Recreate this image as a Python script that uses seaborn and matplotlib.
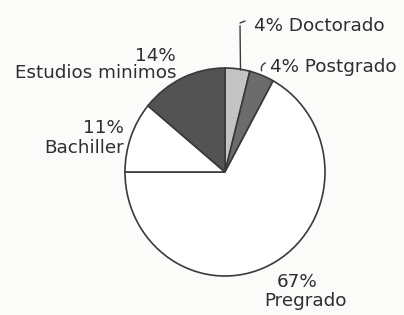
import numpy as np
import seaborn as sns
import matplotlib.pyplot as plt

sns.set_theme(style="white")
plt.rcParams['font.family'] = ['DejaVu Sans']

# data
niveles = ['Doctorado', 'Postgrado', 'Pregrado', 'Bachiller', 'Estudios minimos']
porcentajes = [4, 4, 67, 11, 14]
colores = ['#c4c4c4', '#6c6c6c', '#ffffff', '#ffffff', '#535353']

W, H = 404, 315
fig = plt.figure(figsize=(W / 100, H / 100), dpi=100)
fig.patch.set_facecolor('#fbfbfa')
ax = fig.add_axes([0, 0, 1, 1])

# pie centre / radii in pixels (scan is slightly taller than wide)
cx, cy = 225, 172
rx, ry = 100, 104

wedges, _ = ax.pie(porcentajes, colors=colores, startangle=90, counterclock=False,
                   radius=1, center=(0, 0),
                   wedgeprops=dict(edgecolor='#3a3a3a', linewidth=1.2))
ax.set_xlim(-cx / rx, (W - cx) / rx)
ax.set_ylim(-(H - cy) / ry, cy / ry)
ax.set_aspect('auto')
ax.axis('off')


def px(x, y):
    # pixel (from top-left) -> data coords
    return ((x - cx) / rx, (cy - y) / ry)


fs = 13.2
tc = '#2e2e2e'

# Doctorado: vertical leader from wedge edge
ang = np.deg2rad((wedges[0].theta1 + wedges[0].theta2) / 2)
ax.annotate('', xy=(np.cos(ang) + 0.03, np.sin(ang) - 0.04), xytext=px(240, 23),
            arrowprops=dict(arrowstyle='-', color='#3a3a3a', lw=1.0))
ax.plot(*zip(px(240, 23), px(245, 21)), color='#3a3a3a', lw=1.0)
ax.text(*px(254, 26), '4% Doctorado', fontsize=fs, color=tc, ha='left', va='center')

# Postgrado: small curved hook
ang = np.deg2rad((wedges[1].theta1 + wedges[1].theta2) / 2)
ax.annotate('', xy=(np.cos(ang) * 1.02, np.sin(ang) * 1.02), xytext=px(268, 62),
            arrowprops=dict(arrowstyle='-', color='#3a3a3a', lw=1.0,
                            connectionstyle='arc3,rad=0.6'))
ax.text(*px(270, 67), '4% Postgrado', fontsize=fs, color=tc, ha='left', va='center')

ax.text(*px(176, 56), '14%', fontsize=fs, color=tc, ha='right', va='center')
ax.text(*px(176, 73), niveles[4], fontsize=fs, color=tc, ha='right', va='center')
ax.text(*px(124, 128), '11%', fontsize=fs, color=tc, ha='right', va='center')
ax.text(*px(124, 148), niveles[3], fontsize=fs, color=tc, ha='right', va='center')
ax.text(*px(297, 282), '67%', fontsize=fs, color=tc, ha='center', va='center')
ax.text(*px(306, 301), niveles[2], fontsize=fs, color=tc, ha='center', va='center')

fig.savefig('out.png', dpi=100, facecolor=fig.get_facecolor())
